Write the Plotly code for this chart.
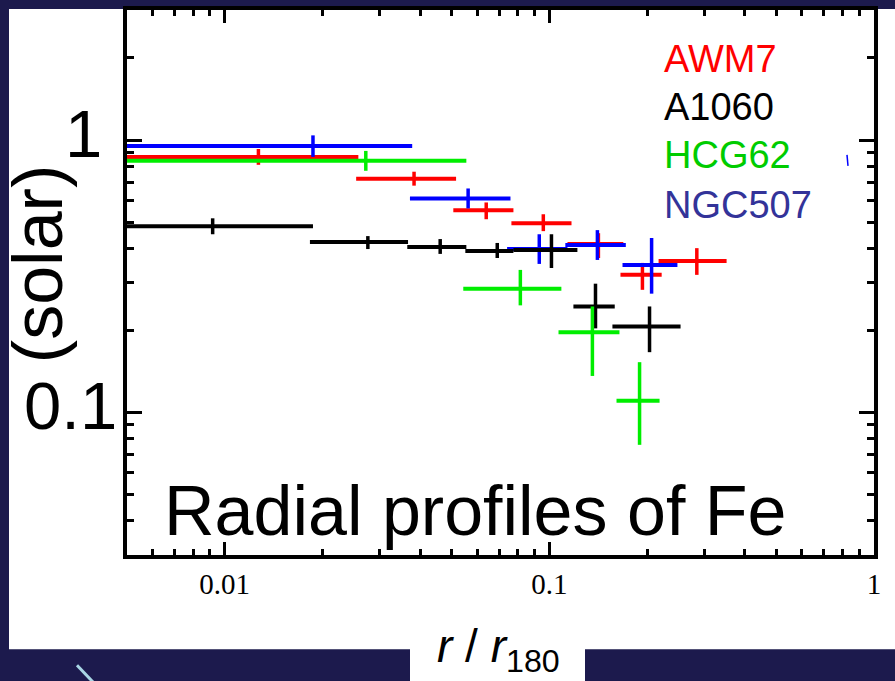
import plotly.graph_objects as go

# ---------------- data ----------------
awm7_x   = [0.0127, 0.0383, 0.0639, 0.0958, 0.1416, 0.1935, 0.2846]
awm7_xlo = [0.0040, 0.0254, 0.0506, 0.0764, 0.1137, 0.1656, 0.2170]
awm7_xhi = [0.0258, 0.0516, 0.0775, 0.1170, 0.1690, 0.2218, 0.3515]
awm7_y   = [0.867, 0.721, 0.552, 0.495, 0.415, 0.320, 0.360]
awm7_ylo = [0.811, 0.680, 0.512, 0.463, 0.369, 0.282, 0.320]
awm7_yhi = [0.927, 0.765, 0.590, 0.534, 0.455, 0.354, 0.401]

a1060_x   = [0.00918, 0.0276, 0.0461, 0.0691, 0.1015, 0.1387, 0.2035]
a1060_xlo = [0.0040, 0.0183, 0.0365, 0.0551, 0.0775, 0.1186, 0.1564]
a1060_xhi = [0.0187, 0.0367, 0.0555, 0.0775, 0.1220, 0.1590, 0.2536]
a1060_y   = [0.483, 0.422, 0.405, 0.3915, 0.395, 0.245, 0.207]
a1060_ylo = [0.451, 0.398, 0.382, 0.369, 0.339, 0.2036, 0.1665]
a1060_yhi = [0.516, 0.444, 0.433, 0.419, 0.451, 0.297, 0.245]

hcg62_x   = [0.0272, 0.0814, 0.1357, 0.1896]
hcg62_xlo = [0.0040, 0.0543, 0.1067, 0.1610]
hcg62_xhi = [0.0555, 0.1089, 0.1644, 0.2185]
hcg62_y   = [0.839, 0.2848, 0.197, 0.1105]
hcg62_ylo = [0.771, 0.2473, 0.1362, 0.0761]
hcg62_yhi = [0.912, 0.3337, 0.245, 0.153]

ngc507_x   = [0.0187, 0.0562, 0.0931, 0.1406, 0.2065]
ngc507_xlo = [0.0040, 0.0372, 0.0741, 0.1120, 0.1680]
ngc507_xhi = [0.0378, 0.0759, 0.1137, 0.1720, 0.2480]
ngc507_y   = [0.951, 0.610, 0.398, 0.4117, 0.348]
ngc507_ylo = [0.867, 0.561, 0.351, 0.363, 0.273]
ngc507_yhi = [1.040, 0.664, 0.451, 0.467, 0.437]

series_names = ["AWM7", "A1060", "HCG62", "NGC507"]
x_tick_vals = [0.01, 0.1, 1]
x_tick_text = ["0.01", "0.1", "1"]
y_tick_vals = [0.1, 1]
y_tick_text = ["0.1", "1"]

# ---------------- layout geometry ----------------
W, H = 895, 681
L, R, T, B = 127, 874, 6, 555
NAVY = "#1c1a4d"


def px(x):
    return (x - L) / (R - L)


def py(y):
    return (B - y) / (B - T)


fig = go.Figure()


def add_series(name, color, x, xlo, xhi, y, ylo, yhi):
    fig.add_trace(go.Scatter(
        x=x, y=y, mode="markers", name=name,
        marker=dict(size=1, color=color, opacity=0),
        error_x=dict(type="data", symmetric=False,
                     array=[b - a for a, b in zip(x, xhi)],
                     arrayminus=[a - b for a, b in zip(x, xlo)],
                     color=color, thickness=4, width=0),
        error_y=dict(type="data", symmetric=False,
                     array=[b - a for a, b in zip(y, yhi)],
                     arrayminus=[a - b for a, b in zip(y, ylo)],
                     color=color, thickness=3.5, width=0),
        showlegend=False,
    ))


add_series("AWM7", "#ff0000", awm7_x, awm7_xlo, awm7_xhi, awm7_y, awm7_ylo, awm7_yhi)
add_series("NGC507", "#0000ff", ngc507_x, ngc507_xlo, ngc507_xhi, ngc507_y, ngc507_ylo, ngc507_yhi)
add_series("A1060", "#000000", a1060_x, a1060_xlo, a1060_xhi, a1060_y, a1060_ylo, a1060_yhi)
add_series("HCG62", "#00ee00", hcg62_x, hcg62_xlo, hcg62_xhi, hcg62_y, hcg62_ylo, hcg62_yhi)

x_minor = [0.006, 0.007, 0.008, 0.009] + [k / 100 for k in range(2, 10)] + [k / 10 for k in range(2, 10)]
y_minor = [k / 100 for k in range(4, 10)] + [k / 10 for k in range(2, 10)] + [2]

fig.update_xaxes(
    type="log", range=[-2.30103, 0.0], showgrid=False, zeroline=False,
    showline=True, linecolor="black", linewidth=3.5, mirror="allticks",
    ticks="inside", ticklen=13, tickwidth=3, tickcolor="black",
    tickvals=x_tick_vals, ticktext=x_tick_text,
    tickfont=dict(family="Liberation Serif, Times New Roman, serif", size=29, color="black"),
    minor=dict(ticks="inside", ticklen=6, tickwidth=3, tickcolor="black", tickvals=x_minor, showgrid=False),
)
fig.update_yaxes(
    type="log", range=[-1.5229, 0.4771], showgrid=False, zeroline=False,
    showline=True, linecolor="black", linewidth=3.5, mirror="allticks",
    ticks="inside", ticklen=15, tickwidth=3, tickcolor="black",
    tickvals=y_tick_vals, showticklabels=False,
    minor=dict(ticks="inside", ticklen=7, tickwidth=3, tickcolor="black", tickvals=y_minor, showgrid=False),
)

shapes = [
    # white slide panel behind the chart
    dict(type="rect", xref="paper", yref="paper", x0=px(9), x1=px(W + 5), y0=py(650), y1=py(5),
         fillcolor="white", line=dict(width=0), layer="below"),
    # white box behind the x-axis title
    dict(type="rect", xref="paper", yref="paper", x0=px(410), x1=px(585), y0=py(H + 5), y1=py(648),
         fillcolor="white", line=dict(width=0), layer="below"),
    # light decoration line at the bottom left
    dict(type="line", xref="paper", yref="paper", x0=px(77), x1=px(93), y0=py(666), y1=py(683),
         line=dict(color="#a9d6e5", width=3)),
    # small stray blue mark at the right
    dict(type="line", xref="paper", yref="paper", x0=px(847), x1=px(848), y0=py(152), y1=py(163),
         line=dict(color="#0000ff", width=1.5)),
]

ARIAL = "Liberation Sans, Arial, sans-serif"
annotations = [
    dict(text=y_tick_text[1], x=px(104), y=py(130), xref="paper", yref="paper", xanchor="right",
         yanchor="middle", showarrow=False, font=dict(family=ARIAL, size=67, color="black")),
    dict(text=y_tick_text[0], x=px(119), y=py(404), xref="paper", yref="paper", xanchor="right",
         yanchor="middle", showarrow=False, font=dict(family=ARIAL, size=67, color="black")),
    dict(text="(solar)", x=px(38), y=py(262), xref="paper", yref="paper", xanchor="center",
         yanchor="middle", textangle=-90, showarrow=False, font=dict(family=ARIAL, size=70, color="black")),
    dict(text="Radial profiles of Fe", x=px(475), y=py(511), xref="paper", yref="paper", xanchor="center",
         yanchor="middle", showarrow=False, font=dict(family=ARIAL, size=70, color="black")),
    dict(text="<i>r</i> / <i>r</i><sub>180</sub>", x=px(498), y=py(650), xref="paper", yref="paper",
         xanchor="center", yanchor="middle", showarrow=False, font=dict(family=ARIAL, size=46, color="black")),
]
legend_colors = ["#ff0000", "#000000", "#00cc00", "#333399"]
legend_y = [55, 104, 152, 202]
for name, c, yy in zip(series_names, legend_colors, legend_y):
    annotations.append(dict(text=name, x=px(662), y=py(yy), xref="paper", yref="paper", xanchor="left",
                            yanchor="middle", showarrow=False, font=dict(family=ARIAL, size=38, color=c)))

fig.update_layout(
    width=W, height=H, autosize=False,
    margin=dict(l=L, r=W - R, t=T, b=H - B, pad=0),
    paper_bgcolor=NAVY, plot_bgcolor="white",
    shapes=shapes, annotations=annotations, showlegend=False,
)

fig.write_html("out.html", config={"displayModeBar": False})
